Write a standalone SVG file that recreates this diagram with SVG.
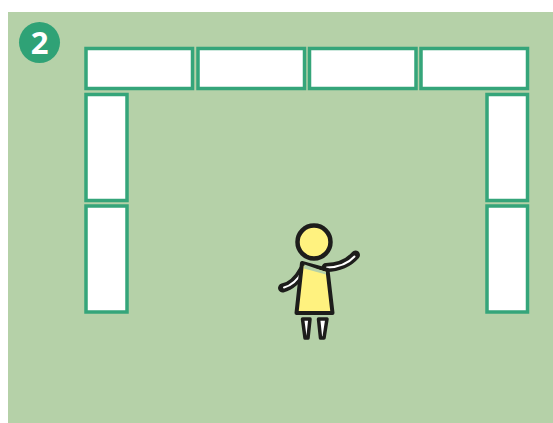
<svg xmlns="http://www.w3.org/2000/svg" width="553" height="423" viewBox="0 0 553 423">
<style>
.t{fill:#fff;stroke:#35a57a;stroke-width:3.500}
.o{fill:none;stroke:#1d1d1b;stroke-linecap:round;stroke-linejoin:round}
.w{fill:none;stroke:#fff;stroke-linecap:round}
.l{fill:#fff;stroke:#1d1d1b;stroke-width:3.500;stroke-linejoin:round}
</style>
<rect width="553" height="423" fill="#fff"/>
<rect x="8" y="12" width="545" height="411" fill="#b5d1a8"/>
<g id="badge"><circle cx="39.500" cy="42.500" r="20.500" fill="#2fa276"/>
<text x="39.500" y="54" text-anchor="middle" font-family="'Open Sans','Noto Sans',sans-serif" font-weight="700" font-size="31" fill="#fff">2</text></g>
<g id="table-top-1"><rect class="t" x="86" y="48.500" width="106.500" height="40"/></g>
<g id="table-top-2"><rect class="t" x="198" y="48.500" width="106.500" height="40"/></g>
<g id="table-top-3"><rect class="t" x="309.500" y="48.500" width="106.500" height="40"/></g>
<g id="table-top-4"><rect class="t" x="421" y="48.500" width="106.500" height="40"/></g>
<g id="table-left-1"><rect class="t" x="86" y="94.500" width="41" height="106"/></g>
<g id="table-left-2"><rect class="t" x="86" y="206" width="41" height="106"/></g>
<g id="table-right-1"><rect class="t" x="487" y="94.500" width="40.500" height="106"/></g>
<g id="table-right-2"><rect class="t" x="487" y="206" width="40.500" height="106"/></g>
<g id="person">
<path class="o" stroke-width="9" d="M282.500 288Q295 285 303 270"/>
<path class="w" stroke-width="2" d="M284 287.500Q295 284.500 302 272"/>
<path class="o" stroke-width="9" d="M326 267.500Q345 267 355.500 255"/>
<path class="w" stroke-width="2" d="M327 267.500Q345 267 354.500 256.500"/>
<path d="M302 263L296.500 313H332.500L327.500 270Z" fill="#fff27f" stroke="#1d1d1b" stroke-width="4" stroke-linejoin="round"/>
<path d="M304.500 264.500L326 272V274.500L304 268.500Z" fill="#b5d1a8"/>
<circle cx="314" cy="242" r="16.500" fill="#fff27f" stroke="#1d1d1b" stroke-width="4.500"/>
<path class="l" d="M302.500 319L305 338H308L310 319Z"/>
<path class="l" d="M318.500 319L320.500 338H324L327 319Z"/>
</g>
</svg>
